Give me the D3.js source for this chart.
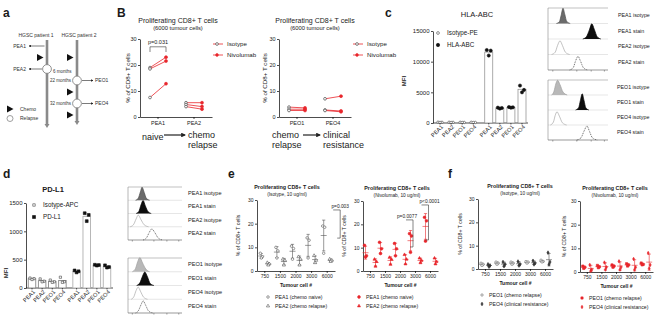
<!DOCTYPE html>
<html>
<head>
<meta charset="utf-8">
<script src="https://cdn.jsdelivr.net/npm/d3@7"></script>
<style>
body { margin: 0; background: #fff; }
svg { display: block; font-family: "Liberation Sans", Arial, sans-serif; }
</style>
</head>
<body>
<svg id="fig" width="670" height="319"></svg>
<script>
const FONT = "'Liberation Sans', Arial, sans-serif";
const RED = "#e8262c";

// ---- a: patient timelines
const patients = ["HGSC patient 1", "HGSC patient 2"];
const timelineEvents = [
    {patient: 0, step: 0, type: "sample", sample: "PEA1"},
    {patient: 0, step: 1, type: "chemo"},
    {patient: 0, step: 2, type: "relapse", sample: "PEA2", months: "6 months"},
    {patient: 1, step: 1, type: "chemo"},
    {patient: 1, step: 3, type: "relapse", sample: "PEO1", months: "22 months"},
    {patient: 1, step: 4, type: "chemo"},
    {patient: 1, step: 5, type: "relapse", sample: "PEO4", months: "32 months"},
    {patient: 1, step: 6, type: "chemo"}
];

// ---- B: paired proliferation (6000 tumour cells)
const prolifTicks = [0, 10, 20, 30];
const pairCatsA = ["PEA1", "PEA2"];
const pairIsoA = [[19, 18.5, 7.5], [5.5, 4.8, 4]];
const pairNivoA = [[23, 21.5, 12.8], [5.5, 4, 3]];
const pairCatsO = ["PEO1", "PEO4"];
const pairIsoO = [[3.8, 3, 2.5], [7, 2.7, 2.5]];
const pairNivoO = [[3.5, 3, 2.5], [8, 2.3, 2]];
const stagesA = ["naive", "chemo relapse"];
const stagesO = ["chemo relapse", "clinical resistance"];

// ---- c / d: MFI bars
const cellLines = ["PEA1", "PEA2", "PEO1", "PEO4"];
const hlaTicks = [0, 5000, 10000, 15000];
const hlaIso = [[130, 110, 90], [120, 100, 80], [110, 90, 80], [110, 90, 80]];
const hlaStain = [[11900, 11800, 11000], [2500, 2450, 2350], [2600, 2550, 2500], [6100, 5400, 5000]];
const pdl1Ticks = [0, 500, 1000, 1500];
const pdl1Iso = [[175, 165, 150], [160, 120, 110], [140, 110, 100], [190, 110, 100]];
const pdl1Stain = [[310, 295, 275], [1320, 1290, 1180], [410, 405, 395], [400, 370, 360]];

// ---- histograms: [fluorescence 0-100, relative count 0-100]
const histRowsA = ["PEA1 isotype", "PEA1 stain", "PEA2 isotype", "PEA2 stain"];
const histRowsO = ["PEO1 isotype", "PEO1 stain", "PEO4 isotype", "PEO4 stain"];
const hlaHistA = [
    [[14, 0], [19, 12], [22, 55], [25, 100], [28, 60], [31, 15], [37, 0]],
    [[58, 0], [64, 15], [69, 60], [73, 100], [77, 65], [82, 15], [88, 0]],
    [[6, 0], [12, 15], [16, 60], [20, 90], [24, 60], [29, 15], [36, 0]],
    [[36, 0], [42, 15], [46, 60], [50, 90], [54, 60], [59, 15], [66, 0]]
];
const hlaHistO = [
    [[6, 0], [10, 25], [13, 75], [16, 100], [20, 70], [25, 20], [32, 0]],
    [[46, 0], [51, 15], [54, 65], [57, 110], [60, 65], [63, 15], [68, 0]],
    [[4, 0], [9, 20], [12, 65], [15, 90], [19, 60], [24, 15], [31, 0]],
    [[48, 0], [55, 15], [60, 60], [65, 95], [69, 60], [74, 15], [82, 0]]
];
const pdHistA = [
    [[14, 0], [19, 15], [23, 65], [26, 100], [30, 60], [34, 15], [40, 0]],
    [[15, 0], [20, 15], [24, 65], [28, 100], [32, 60], [37, 15], [43, 0]],
    [[4, 0], [10, 15], [15, 60], [19, 90], [24, 55], [30, 15], [38, 0]],
    [[28, 0], [34, 15], [39, 55], [44, 85], [50, 55], [56, 15], [64, 0]]
];
const pdHistO = [
    [[8, 0], [14, 25], [18, 75], [22, 105], [27, 65], [33, 20], [40, 0]],
    [[16, 0], [22, 20], [27, 70], [31, 100], [36, 65], [41, 15], [48, 0]],
    [[6, 0], [11, 20], [15, 65], [19, 90], [23, 60], [29, 15], [36, 0]],
    [[14, 0], [19, 15], [24, 60], [28, 90], [33, 55], [38, 15], [46, 0]]
];

// ---- e / f: titration
const tumourCells = ["750", "1500", "2000", "3000", "6000"];
const doseTicks = [0, 10, 20, 30];
const eIsoPEA1 = [[7.5, 6, 5.5], [10, 8.5, 5.5], [10.5, 9.5, 5], [14, 13, 5.5], [19, 18.5, 7.5]];
const eIsoPEA2 = [[3.5, 3, 2.5], [5, 4.5, 2.5], [6, 5, 2.5], [6.5, 4.5, 3.5], [5, 4.5, 4]];
const eNivoPEA1 = [[11, 6.5, 6], [12.3, 9.5, 7.5], [11.8, 9.5, 6.5], [16, 15, 8], [23, 21.5, 12.8]];
const eNivoPEA2 = [[5, 4, 2], [5.8, 5, 2.8], [7, 5, 3], [5.5, 4.5, 3.5], [5.5, 4, 3]];
const fIsoPEO1 = [[2.5, 2, 1.5], [3, 2.5, 2], [3, 2.5, 2], [3.2, 3, 2.5], [3.8, 3.2, 3]];
const fIsoPEO4 = [[2, 1.5, 1], [3, 2, 1.2], [3.2, 2, 1.5], [3.5, 2.5, 2], [7, 3, 2]];
const fNivoPEO1 = [[2.5, 2, 1.5], [2.8, 2.2, 1.8], [3, 2.5, 2], [3.5, 3, 2.5], [3.8, 3.2, 3]];
const fNivoPEO4 = [[3, 1, 0.5], [4, 2, 1], [4.5, 2, 1], [5.5, 2, 1], [8, 3, 1.5]];
const eLegend = ["PEA1 (chemo naive)", "PEA2 (chemo relapse)"];
const fLegend = ["PEO1 (chemo relapse)", "PEO4 (clinical resistance)"];

const svg = d3.select("#fig");

function txt(g, x, y, s, size, o = {}) {
    const t = g.append("text").attr("x", x).attr("y", y).text(s)
        .style("font-size", size + "px").attr("fill", o.fill || "#1a1a1a");
    if (o.anchor) t.attr("text-anchor", o.anchor);
    if (o.bold) t.style("font-weight", "bold");
    if (o.rotate) t.attr("transform", `rotate(-90,${x},${y})`);
    return t;
}

function styleAxis(ax, size) {
    ax.attr("font-family", FONT);
    ax.select(".domain").attr("stroke-width", 0.7);
    ax.selectAll(".tick line").attr("stroke-width", 0.7);
    ax.selectAll("text").style("font-size", size + "px").attr("fill", "#1a1a1a");
}

function yAxis(g, y, x, ticks, size) {
    const ax = g.append("g").attr("transform", `translate(${x},0)`)
        .call(d3.axisLeft(y).tickValues(ticks).tickFormat(d3.format("d"))
            .tickSize(2).tickPadding(1.5).tickSizeOuter(0));
    styleAxis(ax, size);
    return ax;
}

function sym(g, type, size, x, y, fill, stroke) {
    g.append("path").attr("d", d3.symbol().type(type).size(size)())
        .attr("transform", `translate(${x},${y})`)
        .attr("fill", fill).attr("stroke", stroke).attr("stroke-width", 0.6);
}

const defs = svg.append("defs");
function arrowMarker(id, color) {
    defs.append("marker").attr("id", id).attr("viewBox", "0 0 10 10")
        .attr("refX", 8).attr("refY", 5).attr("markerWidth", 4).attr("markerHeight", 4)
        .attr("orient", "auto-start-reverse")
        .append("path").attr("d", "M0,0L10,5L0,10z").attr("fill", color);
}
arrowMarker("arrK", "#222");

// ================= a
function drawTimeline() {
    const g = svg.append("g");
    txt(g, 3, 17, "a", 12, {bold: true});
    const px = d3.scalePoint().domain([0, 1]).range([47, 77]);
    const sy = d3.scaleLinear().domain([0, 6]).range([46, 115]);

    patients.forEach((p, i) => {
        txt(g, px(i) + (i === 0 ? -11 : 2), 37, p, 5, {anchor: "middle", fill: "#333"});
        const yb = i === 0 ? 125 : 122;
        g.append("line").attr("x1", px(i)).attr("x2", px(i)).attr("y1", 40).attr("y2", yb)
            .attr("stroke", "#8a8a8a").attr("stroke-width", 2.6);
        g.append("path").attr("d", `M${px(i) - 2.5},${yb - 1}L${px(i) + 2.5},${yb - 1}L${px(i)},${yb + 3}z`).attr("fill", "#8a8a8a");
    });

    timelineEvents.forEach(ev => {
        const x = px(ev.patient), y = sy(ev.step);
        if (ev.type === "chemo") {
            g.append("path").attr("d", `M${x - 10},${y - 3.6}L${x - 10},${y + 3.6}L${x - 3.5},${y}z`).attr("fill", "#111");
        }
        if (ev.type === "relapse") {
            g.append("circle").attr("cx", x).attr("cy", y).attr("r", 4.4)
                .attr("fill", "#fff").attr("stroke", "#777").attr("stroke-width", 0.8);
        }
        if (ev.sample) {
            const gapR = ev.type === "relapse" ? 5 : 2.5;
            if (ev.patient === 0) {
                g.append("line").attr("x1", x - gapR).attr("x2", x - 18).attr("y1", y).attr("y2", y)
                    .attr("stroke", "#222").attr("stroke-width", 0.6).attr("marker-end", "url(#arrK)");
                txt(g, x - 21, y + 1.8, ev.sample, 5, {anchor: "end", fill: "#333"});
            } else {
                g.append("line").attr("x1", x + gapR).attr("x2", x + 16).attr("y1", y).attr("y2", y)
                    .attr("stroke", "#222").attr("stroke-width", 0.6).attr("marker-end", "url(#arrK)");
                txt(g, x + 18, y + 1.8, ev.sample, 5, {fill: "#333"});
            }
        }
        if (ev.months) {
            if (ev.patient === 0) txt(g, x + 6, y + 4, ev.months, 4.5, {fill: "#333"});
            else txt(g, x - 6, y + 1.6, ev.months, 4.5, {anchor: "end", fill: "#333"});
        }
    });

    g.append("path").attr("d", "M7,105.5L7,112.5L13.5,109z").attr("fill", "#111");
    txt(g, 20, 110.8, "Chemo", 5, {fill: "#333"});
    g.append("circle").attr("cx", 10).attr("cy", 118.5).attr("r", 3).attr("fill", "#fff").attr("stroke", "#777").attr("stroke-width", 0.7);
    txt(g, 20, 120.3, "Relapse", 5, {fill: "#333"});
}

// ================= B
function drawPaired(cfg) {
    const g = svg.append("g");
    const y = d3.scaleLinear().domain([0, 30]).range([117, 39]);
    const x = d3.scaleBand().domain(cfg.cats).range([cfg.x0, cfg.x1]);
    yAxis(g, y, cfg.x0, prolifTicks, 5.5);
    const xa = g.append("g").attr("transform", "translate(0,117)")
        .call(d3.axisBottom(x).tickSize(2).tickPadding(2).tickSizeOuter(0));
    styleAxis(xa, 5.5);

    cfg.cats.forEach((c, i) => {
        const xc = x(c) + x.bandwidth() / 2;
        cfg.iso[i].forEach((v, k) => {
            const v2 = cfg.nivo[i][k];
            g.append("line").attr("x1", xc - 8).attr("x2", xc + 8).attr("y1", y(v)).attr("y2", y(v2))
                .attr("stroke", RED).attr("stroke-width", 0.8);
            sym(g, d3.symbolCircle, 6, xc - 8, y(v), "#fff", "#333");
            sym(g, d3.symbolCircle, 7, xc + 8, y(v2), RED, RED);
        });
    });

    if (cfg.pval) {
        const xc = x(cfg.cats[0]) + x.bandwidth() / 2;
        g.append("path").attr("d", `M${xc - 8},${y(25)}V${y(27)}H${xc + 8}V${y(25)}`)
            .attr("fill", "none").attr("stroke", "#333").attr("stroke-width", 0.6);
        txt(g, xc, y(28), cfg.pval, 5.5, {anchor: "middle"});
    }

    txt(g, cfg.titleX, 23, "Proliferating CD8+ T cells", 7, {anchor: "middle"});
    txt(g, cfg.titleX, 30, "(6000 tumour cells)", 5.8, {anchor: "middle"});
    txt(g, cfg.ylabX, 78, "% of CD8+ T cells", 6.2, {anchor: "middle", rotate: true});

    // legend
    [["Isotype", "#fff", "#333", 44], ["Nivolumab", RED, RED, 55]].forEach(([lab, f, s, ly]) => {
        g.append("line").attr("x1", cfg.legX).attr("x2", cfg.legX + 10).attr("y1", ly).attr("y2", ly)
            .attr("stroke", RED).attr("stroke-width", 0.8);
        sym(g, d3.symbolCircle, 6, cfg.legX + 4, ly, f, s);
        txt(g, cfg.legX + 14, ly + 2, lab, 6.2);
    });

    // stage arrow
    const st = cfg.stages;
    const put = (s, xx) => {
        const parts = s.split(" ");
        parts.forEach((p, k) => txt(g, xx, (parts.length === 1 ? 140 : 137.5) + k * 10.5, p, 9, {fill: "#222"}));
    };
    put(st[0], cfg.stageX[0]);
    g.append("line").attr("x1", cfg.stageX[1]).attr("x2", cfg.stageX[2]).attr("y1", 135).attr("y2", 135)
        .attr("stroke", "#222").attr("stroke-width", 1.2).attr("marker-end", "url(#arrK)");
    put(st[1], cfg.stageX[2] + 3);
}

// ================= c / d bars
function drawMFI(cfg) {
    const g = svg.append("g");
    const y = d3.scaleLinear().domain([0, cfg.ticks[cfg.ticks.length - 1]]).range([cfg.yBase, cfg.yTop]);
    const pos = d3.scaleLinear().domain([0, 7.4]).range([cfg.p0, cfg.p1]);
    yAxis(g, y, cfg.x0, cfg.ticks, 6);
    g.append("line").attr("x1", cfg.x0).attr("x2", cfg.p1 + 6).attr("y1", cfg.yBase).attr("y2", cfg.yBase)
        .attr("stroke", "#000").attr("stroke-width", 0.7);
    const jit = [-2, 2, 0];
    const groups = [{vals: cfg.iso, shift: 0, open: true}, {vals: cfg.stain, shift: 4.4, open: false}];
    groups.forEach(gr => gr.vals.forEach((reps, i) => {
        const xc = pos(i + gr.shift), m = d3.mean(reps);
        g.append("rect").attr("x", xc - cfg.bw / 2).attr("y", y(m)).attr("width", cfg.bw)
            .attr("height", cfg.yBase - y(m)).attr("fill", "#fff")
            .attr("stroke", gr.open ? cfg.isoStroke : cfg.stainStroke).attr("stroke-width", cfg.barW);
        reps.forEach((v, k) => sym(g, cfg.shape, gr.open ? 5 : 8, xc + jit[k], y(v),
            gr.open ? "#fff" : "#111", gr.open ? "#444" : "#111"));
        g.append("line").attr("x1", xc).attr("x2", xc).attr("y1", cfg.yBase).attr("y2", cfg.yBase + 1.5)
            .attr("stroke", "#000").attr("stroke-width", 0.6);
        g.append("text").attr("transform", `translate(${xc + 2},${cfg.yBase + 3}) rotate(-45)`)
            .attr("text-anchor", "end").attr("dy", "0.35em").style("font-size", "5.6px").attr("fill", "#1a1a1a")
            .text(cellLines[i]);
    }));
    txt(g, cfg.titleX, cfg.titleY, cfg.title, 7.5, {anchor: "middle", bold: cfg.boldTitle});
    txt(g, cfg.mfiX, cfg.mfiY, "MFI", 6, {anchor: "middle", bold: true, rotate: true});
    cfg.legend.forEach((lab, k) => {
        const ly = cfg.legY + k * 12;
        sym(g, cfg.shape, k === 0 ? 6 : 9, cfg.legX, ly, k === 0 ? "#fff" : "#111", k === 0 ? "#444" : "#111");
        txt(g, cfg.legX + 9, ly + 2.2, lab, 6.3);
    });
}

// ================= histograms
const histStyle = {
    dark: {fill: "#6b6b6b", stroke: "#4d4d4d"},
    light: {fill: "#b8b8b8", stroke: "#9d9d9d"},
    black: {fill: "#0d0d0d", stroke: "#000"},
    open: {fill: "none", stroke: "#a8a8a8"},
    dotted: {fill: "none", stroke: "#333", dash: "1,0.8"}
};
function drawHist(cfg) {
    const g = svg.append("g");
    const x = d3.scaleLinear().domain([0, 100]).range([cfg.x0, cfg.x1]);
    const rh = (cfg.y1 - cfg.y0) / 4;
    g.append("line").attr("x1", cfg.x0).attr("x2", cfg.x1).attr("y1", cfg.y0).attr("y2", cfg.y0)
        .attr("stroke", "#999").attr("stroke-width", 0.6);
    for (let i = 1; i < 4; i++) {
        g.append("line").attr("x1", cfg.x0).attr("x2", cfg.x1).attr("y1", cfg.y0 + i * rh).attr("y2", cfg.y0 + i * rh)
            .attr("stroke", "#ccc").attr("stroke-width", 0.5);
    }
    cfg.curves.forEach((pts, i) => {
        const yb = cfg.y0 + (i + 1) * rh;
        const y = d3.scaleLinear().domain([0, 100]).range([yb, yb - rh * 0.98]);
        const st = histStyle[cfg.styles[i]];
        const area = d3.area().x(d => x(d[0])).y0(yb).y1(d => y(d[1])).curve(d3.curveMonotoneX);
        const line = d3.line().x(d => x(d[0])).y(d => y(d[1])).curve(d3.curveMonotoneX);
        if (st.fill !== "none") g.append("path").attr("d", area(pts)).attr("fill", st.fill);
        g.append("path").attr("d", line(pts)).attr("fill", "none").attr("stroke", st.stroke)
            .attr("stroke-width", 0.7).attr("stroke-dasharray", st.dash || null);
        txt(g, cfg.labX, yb - rh / 2 + 1.5, cfg.labels[i], cfg.labSize, {fill: "#222"});
    });
    g.append("line").attr("x1", cfg.x0).attr("x2", cfg.x0).attr("y1", cfg.y0).attr("y2", cfg.y1)
        .attr("stroke", "#888").attr("stroke-width", 0.6);
    g.append("line").attr("x1", cfg.x0).attr("x2", cfg.x1).attr("y1", cfg.y1).attr("y2", cfg.y1)
        .attr("stroke", "#555").attr("stroke-width", 0.6);
    [8, 48, 72, 94].forEach(t => {
        g.append("line").attr("x1", x(t)).attr("x2", x(t)).attr("y1", cfg.y1).attr("y2", cfg.y1 + 1.6)
            .attr("stroke", "#555").attr("stroke-width", 0.5);
    });
}

// ================= e / f
function drawDose(cfg) {
    const g = svg.append("g");
    const y = d3.scaleLinear().domain([0, 30]).range([cfg.yBase, cfg.yTop]);
    const x = d3.scaleBand().domain(tumourCells).range([cfg.x0, cfg.x1]);
    const cx = c => x(c) + x.bandwidth() / 2;
    yAxis(g, y, cfg.x0, doseTicks, 5);
    const xa = g.append("g").attr("transform", `translate(0,${cfg.yBase})`)
        .call(d3.axisBottom(x).tickSize(2).tickPadding(1.5).tickSizeOuter(0));
    styleAxis(xa, 5);
    const mid = (cfg.x0 + cfg.x1) / 2;
    txt(g, mid, cfg.yBase + 16, "Tumour cell #", 5, {anchor: "middle", bold: true});
    txt(g, cfg.titleX, cfg.yTop - 11, "Proliferating CD8+  T cells", 5.4, {anchor: "middle", bold: true});
    txt(g, cfg.titleX, cfg.yTop - 4, cfg.subtitle, 4.8, {anchor: "middle"});
    txt(g, cfg.ylabX, (cfg.yBase + cfg.yTop) / 2, "% of CD8+ T cells", 5.2, {anchor: "middle", rotate: true});

    const jit = [-1, 1, 0];
    cfg.series.forEach((s, si) => {
        s.vals.forEach((reps, ci) => {
            const xc = cx(tumourCells[ci]) + s.off;
            const m = d3.mean(reps), sd = d3.deviation(reps);
            const lo = y(Math.max(0, m - sd)), hi = y(m + sd);
            g.append("line").attr("x1", xc).attr("x2", xc).attr("y1", lo).attr("y2", hi)
                .attr("stroke", s.line).attr("stroke-width", 0.6);
            [lo, hi].forEach(yy => g.append("line").attr("x1", xc - 1.6).attr("x2", xc + 1.6)
                .attr("y1", yy).attr("y2", yy).attr("stroke", s.line).attr("stroke-width", 0.6));
            g.append("line").attr("x1", xc - 3).attr("x2", xc + 3).attr("y1", y(m)).attr("y2", y(m))
                .attr("stroke", s.line).attr("stroke-width", 0.6);
            reps.forEach((v, k) => sym(g, s.shape, s.size, xc + jit[k], y(v), s.fill, s.stroke));
        });
        const ly = cfg.yBase + 26 + si * 9;
        sym(g, s.shape, s.size, cfg.legX, ly, s.fill, s.stroke);
        txt(g, cfg.legX + 7, ly + 1.8, cfg.legend[si], 5.2);
    });

    (cfg.brackets || []).forEach(b => {
        const xv = cx(b.cat) + b.dx;
        g.append("path").attr("d", `M${xv - 7},${y(b.top)}H${xv}V${y(b.bottom)}H${xv - 3}`)
            .attr("fill", "none").attr("stroke", "#333").attr("stroke-width", 0.6);
        txt(g, xv + b.tx, y(b.top) - 1.5, b.label, 4.8, {anchor: "middle"});
    });
}

// ================= draw
drawTimeline();

const gl = svg.append("g");
txt(gl, 117, 17, "B", 12, {bold: true});
txt(gl, 385, 17, "c", 12, {bold: true});
txt(gl, 3, 178, "d", 12, {bold: true});
txt(gl, 228, 178, "e", 12, {bold: true});
txt(gl, 448, 178, "f", 12, {bold: true});

drawPaired({cats: pairCatsA, iso: pairIsoA, nivo: pairNivoA, x0: 140, x1: 212, titleX: 178, ylabX: 130,
    legX: 213, pval: "p=0.031", stages: stagesA, stageX: [142, 164, 185]});
drawPaired({cats: pairCatsO, iso: pairIsoO, nivo: pairNivoO, x0: 279, x1: 351, titleX: 315, ylabX: 267,
    legX: 353, stages: stagesO, stageX: [272, 303, 320]});

drawMFI({iso: hlaIso, stain: hlaStain, ticks: hlaTicks, yBase: 123, yTop: 31, x0: 433, p0: 440, p1: 522,
    bw: 8, shape: d3.symbolCircle, isoStroke: "#999", stainStroke: "#888", barW: 0.7,
    title: "HLA-ABC", titleX: 477, titleY: 17, boldTitle: false, mfiX: 406, mfiY: 81,
    legend: ["Isotype-PE", "HLA-ABC"], legX: 438, legY: 33});
drawMFI({iso: pdl1Iso, stain: pdl1Stain, ticks: pdl1Ticks, yBase: 288, yTop: 203, x0: 26, p0: 32, p1: 107,
    bw: 7.5, shape: d3.symbolSquare, isoStroke: "#888", stainStroke: "#b0b0b0", barW: 0.9,
    title: "PD-L1", titleX: 53, titleY: 192, boldTitle: true, mfiX: 8, mfiY: 273,
    legend: ["Isotype-APC", "PD-L1"], legX: 34, legY: 205});

drawHist({x0: 548, x1: 608, y0: 8, y1: 70, curves: hlaHistA, styles: ["dark", "black", "open", "dotted"],
    labels: histRowsA, labX: 618, labSize: 5.3});
drawHist({x0: 548, x1: 608, y0: 80, y1: 140, curves: hlaHistO, styles: ["light", "black", "open", "dotted"],
    labels: histRowsO, labX: 617, labSize: 5.3});
drawHist({x0: 128, x1: 182, y0: 187, y1: 240, curves: pdHistA, styles: ["dark", "black", "open", "dotted"],
    labels: histRowsA, labX: 188, labSize: 5.6});
drawHist({x0: 128, x1: 182, y0: 258, y1: 313, curves: pdHistO, styles: ["light", "black", "open", "dotted"],
    labels: histRowsO, labX: 188, labSize: 5.6});

drawDose({x0: 257, x1: 335, yBase: 271, yTop: 200, titleX: 287, subtitle: "(Isotype, 10 ug/ml)", ylabX: 240,
    legX: 268, legend: eLegend,
    series: [
        {vals: eIsoPEA1, off: -3.5, shape: d3.symbolCircle, size: 5, fill: "#fff", stroke: "#555", line: "#555"},
        {vals: eIsoPEA2, off: 3.5, shape: d3.symbolTriangle, size: 4.5, fill: "#fff", stroke: "#555", line: "#555"}
    ],
    brackets: [{cat: "6000", dx: 13, top: 25.8, bottom: 13.9, label: "p=0.003", tx: 0}]});
drawDose({x0: 363, x1: 438, yBase: 271, yTop: 201, titleX: 397, subtitle: "(Nivolumab, 10 ug/ml)", ylabX: 346,
    legX: 359, legend: eLegend,
    series: [
        {vals: eNivoPEA1, off: -5, shape: d3.symbolCircle, size: 6, fill: RED, stroke: RED, line: RED},
        {vals: eNivoPEA2, off: 5, shape: d3.symbolTriangle, size: 4, fill: RED, stroke: RED, line: RED}
    ],
    brackets: [
        {cat: "3000", dx: -2.5, top: 21.9, bottom: 10.3, label: "p=0.0077", tx: -6},
        {cat: "6000", dx: -2, top: 28.3, bottom: 13.3, label: "p<0.0001", tx: 1}
    ]});
drawDose({x0: 478, x1: 553, yBase: 269, yTop: 199, titleX: 520, subtitle: "(Isotype, 10 ug/ml)", ylabX: 462,
    legX: 482, legend: fLegend,
    series: [
        {vals: fIsoPEO1, off: -3.5, shape: d3.symbolSquare, size: 4, fill: "#fff", stroke: "#777", line: "#666"},
        {vals: fIsoPEO4, off: 3.5, shape: d3.symbolDiamond, size: 4, fill: "#333", stroke: "#333", line: "#555"}
    ]});
drawDose({x0: 580, x1: 653, yBase: 272, yTop: 201, titleX: 615, subtitle: "(Nivolumab, 10 ug/ml)", ylabX: 566,
    legX: 582, legend: fLegend,
    series: [
        {vals: fNivoPEO1, off: -3.5, shape: d3.symbolSquare, size: 5, fill: RED, stroke: RED, line: RED},
        {vals: fNivoPEO4, off: 3.5, shape: d3.symbolDiamond, size: 3.5, fill: RED, stroke: RED, line: RED}
    ]});
</script>
</body>
</html>
